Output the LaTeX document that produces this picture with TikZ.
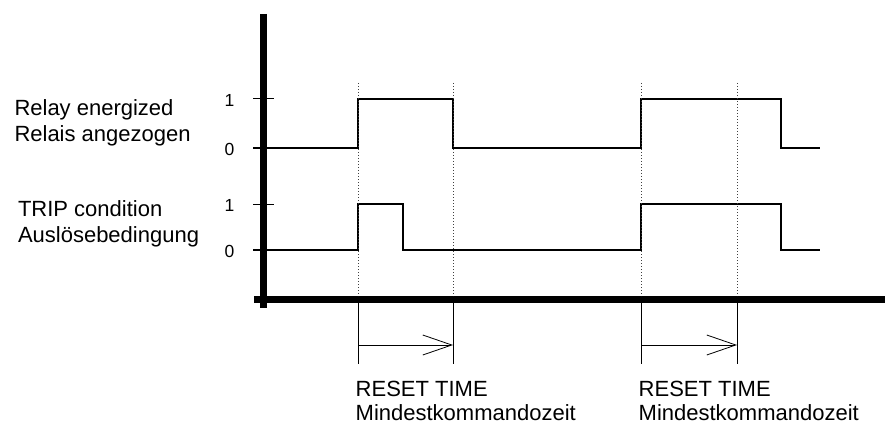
\documentclass[tikz,border=0pt]{standalone}
\usepackage{fontspec}
\setmainfont{Liberation Sans}
\usetikzlibrary{arrows.meta}

\begin{document}
\begin{tikzpicture}[x=1pt,y=-1pt,
    txt/.style={font=\fontsize{22}{26}\selectfont,inner sep=0pt,anchor=base west},
    pegel/.style={font=\fontsize{17.5}{20}\selectfont,inner sep=0pt},
    sig/.style={line width=1.2pt},
    punkte/.style={line width=0.7pt,black!75,dash pattern=on 1pt off 2pt}]
\useasboundingbox (0,0) rectangle (885,422);

% Achsen
\draw[line width=7pt] (263.5,14) -- (263.5,308);
\draw[line width=7pt] (254,299.5) -- (885,299.5);

% Pegel 0 und 1
\foreach \n/\y/\w in {a/99/1,b/148/0,c/204/1,d/250/0} {
    \draw[line width=1pt] (253,\y) -- (274,\y);
    \node[pegel] (p\n) at (229.5,{\y+1.5}) {\w};
}

% Relay energized
\node[txt] (relay) at (14.3,116) {Relay energized};
\node[txt] (relais) at (14.3,141.7) {Relais angezogen};
\draw[sig] (253,148) -| (358,99) -| (453,148) -| (641,99) -| (781,148) -- (820,148);

% TRIP condition
\node[txt] (trip) at (17.8,216.7) {TRIP condition};
\node[txt] (ausl) at (17.8,242.3) {Auslösebedingung};
\draw[sig] (253,250) -| (358,204) -| (403,250) -| (641,204) -| (781,250) -- (820,250);

% Mindestkommandozeit
\foreach \s/\e in {358/453,641/737} {
    \coordinate (s\s) at (\s,345);
    \coordinate (e\s) at (\e,345);
    \draw[punkte] (\s,83) -- (\s,296);
    \draw[punkte] (\e,83) -- (\e,296);
    \draw[line width=0.8pt] (\s,299) -- (\s,364);
    \draw[line width=0.8pt] (\e,299) -- (\e,364);
    \draw[line width=0.8pt,-{Straight Barb[length=29pt,width=20pt]}] (s\s) -- (e\s);
    \node[txt] (reset\s) at ({\s-2.5},396.7) {RESET TIME};
    \node[txt] (mkz\s) at ({\s-2.5},420.5) {Mindestkommandozeit};
}
\end{tikzpicture}
\end{document}
